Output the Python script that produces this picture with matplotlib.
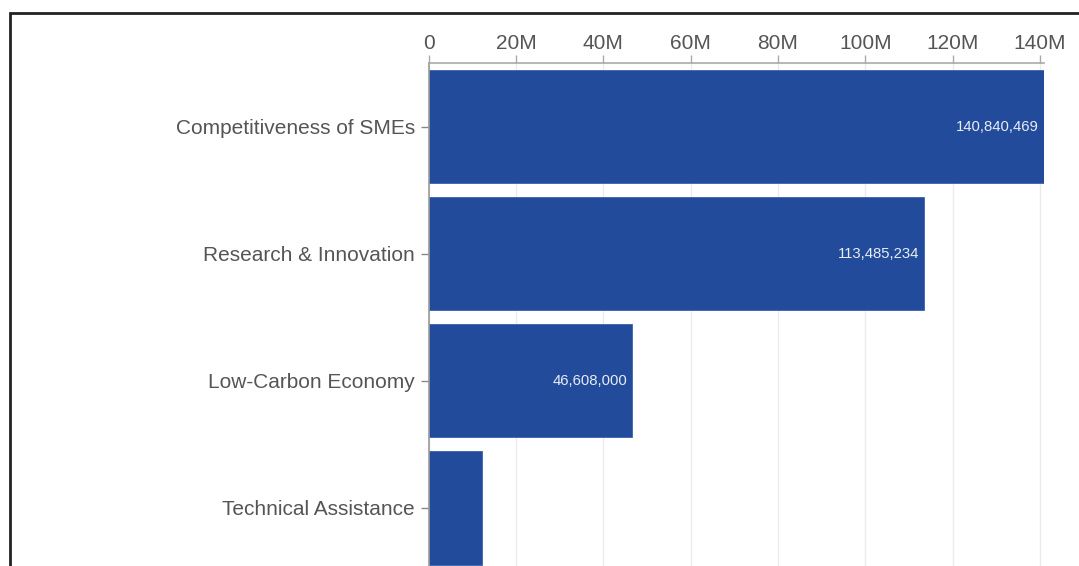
import matplotlib
matplotlib.use("Agg")
import matplotlib.pyplot as plt
from matplotlib.patches import Rectangle
from matplotlib.ticker import FuncFormatter

# Funding per priority axis (EUR)
categories = ["Competitiveness of SMEs", "Research & Innovation",
              "Low-Carbon Economy", "Technical Assistance"]
amounts = [140840469, 113485234, 46608000, 12200000]
shown_labels = [True, True, True, False]
xticks = [0, 20e6, 40e6, 60e6, 80e6, 100e6, 120e6, 140e6]

plt.rcParams['font.family'] = ['Liberation Sans', 'DejaVu Sans']

W, H = 1079, 566
fig = plt.figure(figsize=(W / 100, H / 100), dpi=100)

# axes box in pixel terms, bottom runs past the figure edge
left, right, top, bottom = 428.7, 1043.5, 63.0, 571.5
ax = fig.add_axes([left / W, 1 - bottom / H, (right - left) / W, (bottom - top) / H])

bar_color = "#224c9b"
y = list(range(len(categories)))
ax.barh(y, amounts, height=0.89, color=bar_color, edgecolor="#3a62ad",
        linewidth=0.6, zorder=2)

for yi, v, show in zip(y, amounts, shown_labels):
    if show:
        ax.text(v - 4.5 * 140840469 / (right - left), yi, f"{v:,}",
                ha="right", va="center", color="#e8ecf5", fontsize=10.7,
                zorder=3)

ax.set_xlim(0, max(amounts))
ax.set_ylim(len(categories) - 0.5, -0.5)
ax.set_yticks(y)
ax.set_yticklabels(categories)
ax.set_xticks(xticks)
ax.xaxis.set_major_formatter(FuncFormatter(lambda v, p: "0" if v == 0 else f"{v / 1e6:.0f}M"))

ax.xaxis.tick_top()
ax.tick_params(axis="x", length=6, width=1, color="#aaaaaa", labelcolor="#555555",
               labelsize=15, pad=1)
ax.tick_params(axis="y", length=6, width=1, color="#888888", labelcolor="#555555",
               labelsize=15, pad=4)

for side in ["right", "bottom"]:
    ax.spines[side].set_visible(False)
ax.spines["top"].set_color("#aaaaaa")
ax.spines["left"].set_color("#999999")
ax.spines["top"].set_linewidth(1.2)
ax.spines["left"].set_linewidth(1.2)

ax.grid(axis="x", color="#ebebeb", linewidth=1, zorder=0)
ax.set_axisbelow(True)

# outer frame
fig.patches.append(Rectangle((10 / W, -0.2), 1.2, 1.2 - 13 / H,
                             transform=fig.transFigure, fill=False,
                             edgecolor="#222222", linewidth=2))

fig.savefig("out.png", dpi=100)
